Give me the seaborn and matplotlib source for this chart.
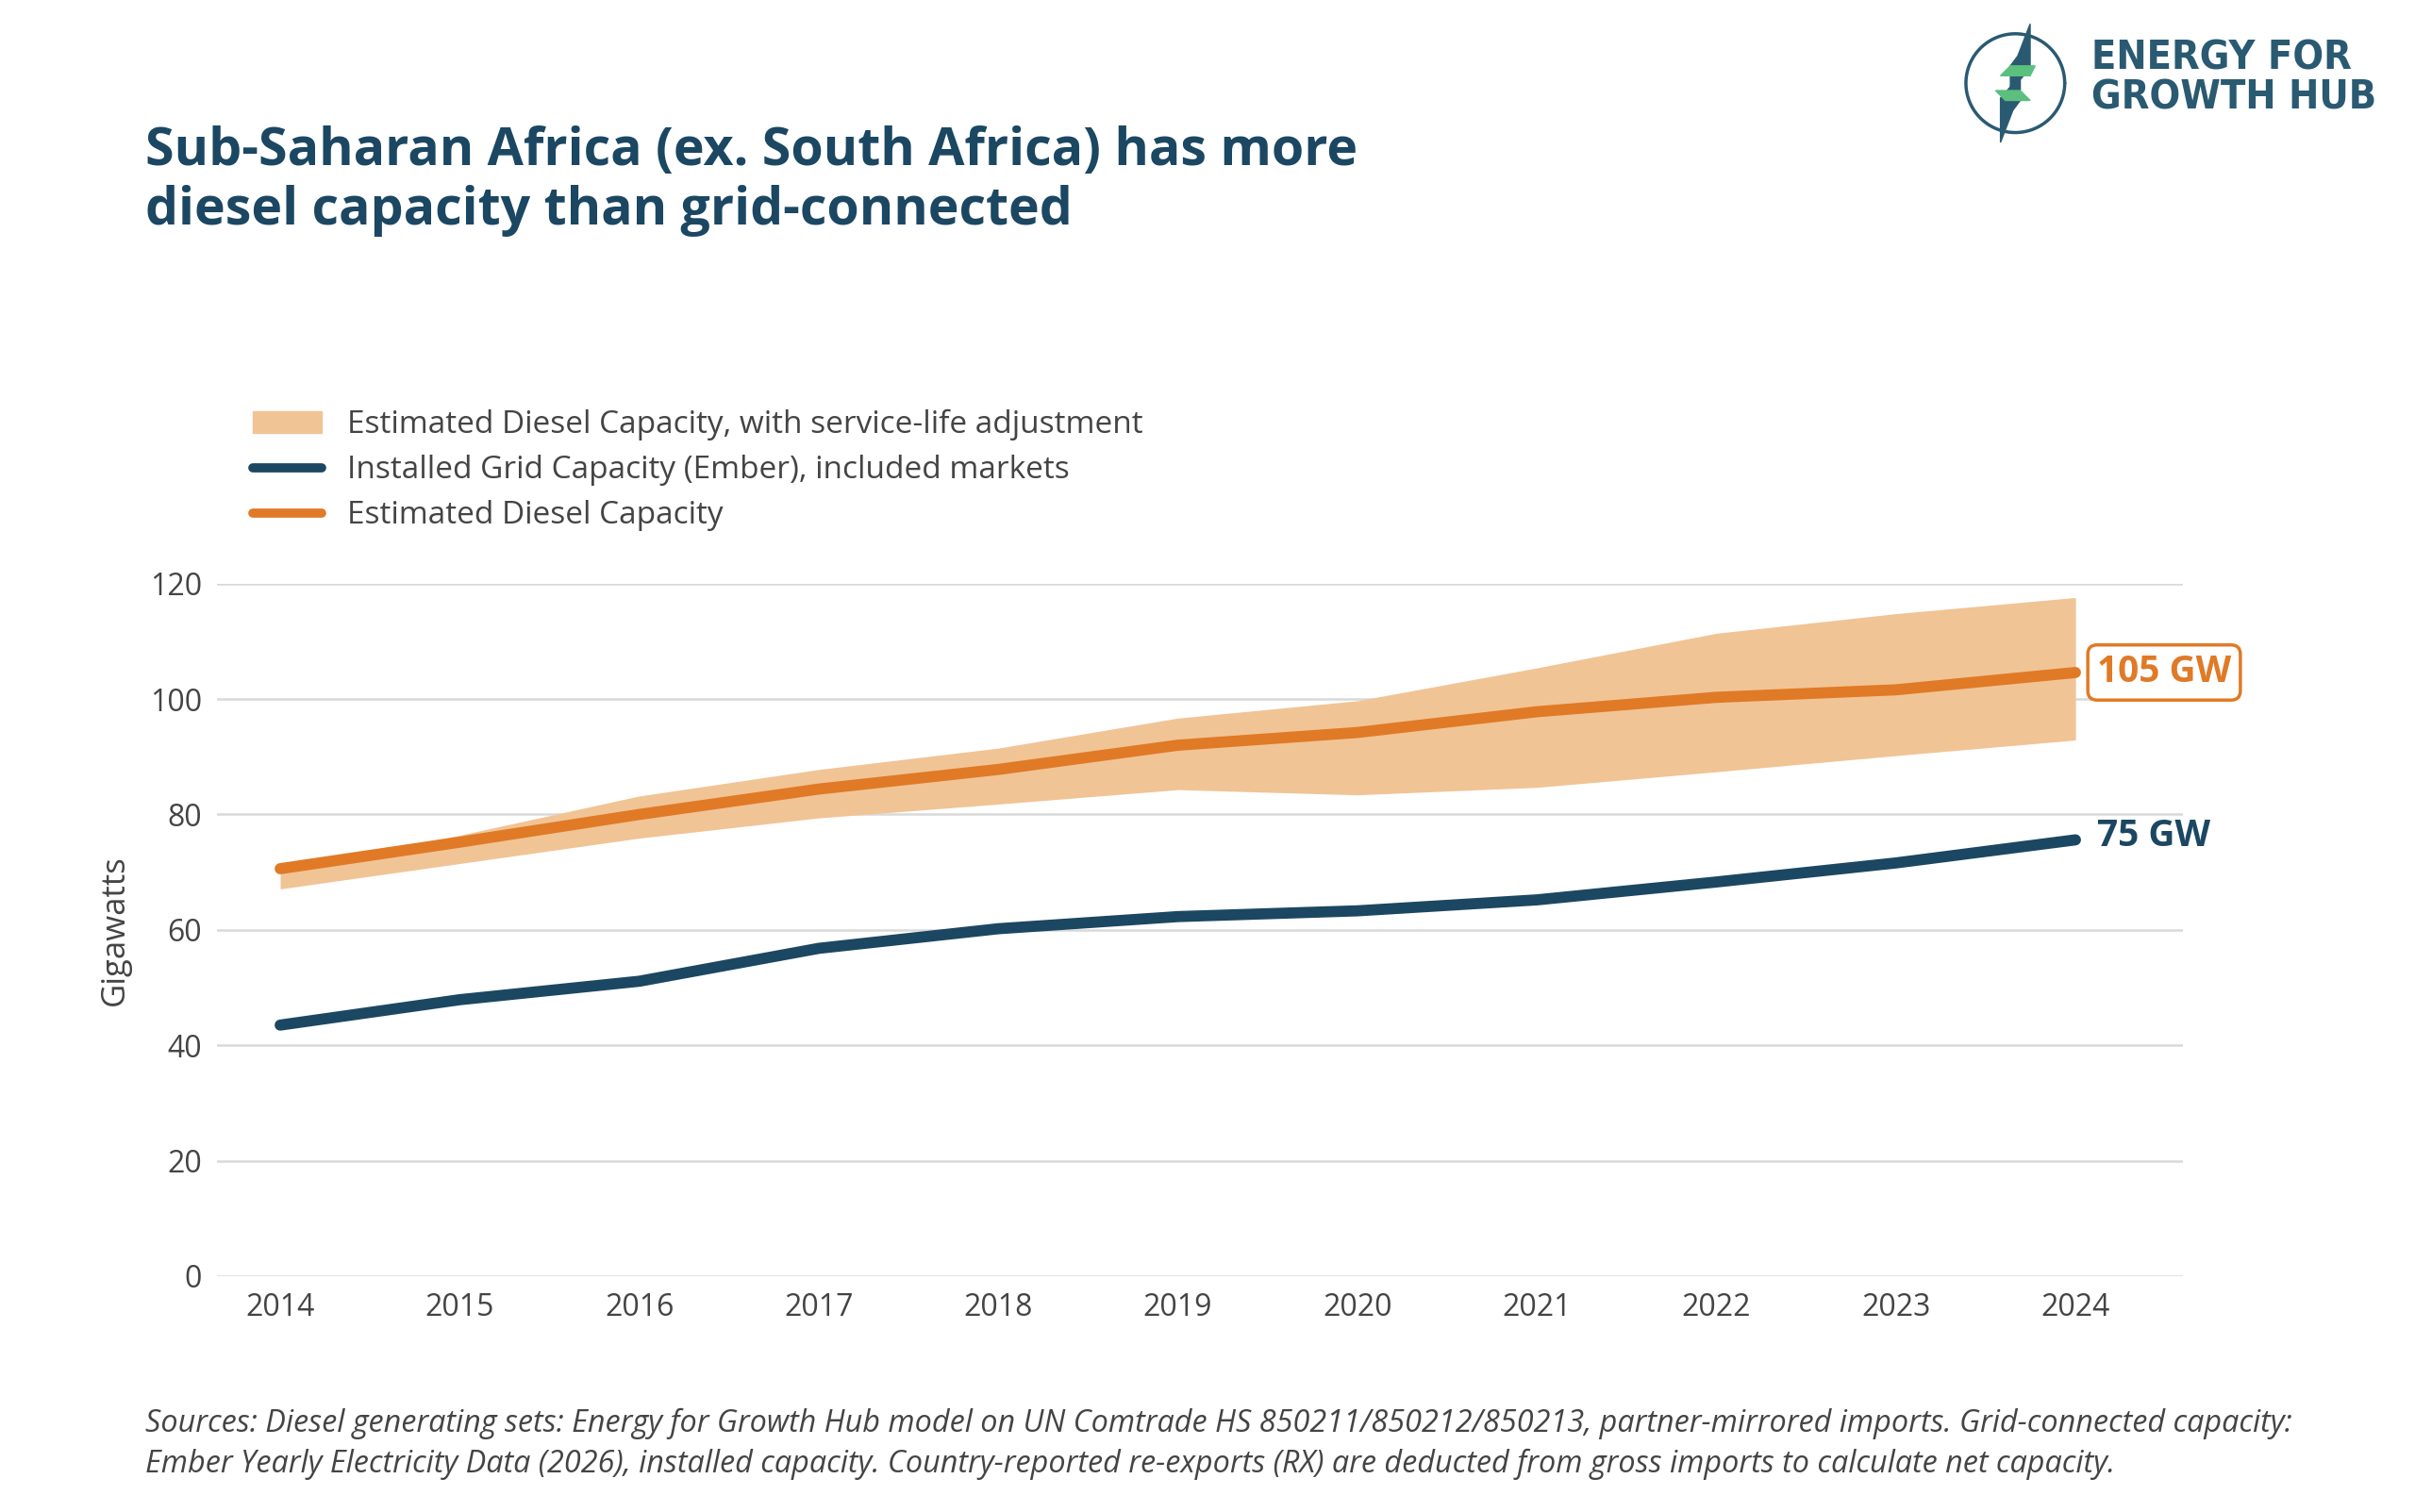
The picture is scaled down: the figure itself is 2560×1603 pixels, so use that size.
import numpy as np
import pandas as pd
import seaborn as sns
import matplotlib.pyplot as plt
from matplotlib.patches import Patch
from matplotlib.lines import Line2D

years = list(range(2014, 2025))
diesel = [70.6, 75.2, 80.0, 84.4, 87.8, 92.0, 94.2, 97.8, 100.3, 101.6, 104.6]
diesel_high = [70.6, 76.4, 83.2, 87.8, 91.5, 96.7, 99.7, 105.4, 111.4, 114.8, 117.6]
diesel_low = [67.1, 71.5, 75.9, 79.4, 81.8, 84.3, 83.4, 84.7, 87.4, 90.2, 92.9]
grid = [43.5, 47.9, 51.1, 56.8, 60.2, 62.3, 63.3, 65.2, 68.3, 71.6, 75.6]

df = pd.DataFrame({'Year': years, 'Diesel': diesel, 'Grid': grid})

navy = '#1b4762'
orange = '#e07a26'
band = '#f1c495'
txt = '#444444'

sns.set_style('white')
plt.rcParams['font.family'] = ['Open Sans', 'DejaVu Sans']

fig = plt.figure(figsize=(25.6, 16.03), dpi=100)
ax = fig.add_axes([0.09, 0.156, 0.814, 0.458])

ax.fill_between(years, diesel_low, diesel_high, color=band, lw=0, zorder=1)
for y in range(0, 121, 20):
    ax.axhline(y, color='#d9d9d9', lw=1.8, zorder=0)
sns.lineplot(data=df, x='Year', y='Grid', color=navy, lw=8.5, ax=ax, zorder=3)
sns.lineplot(data=df, x='Year', y='Diesel', color=orange, lw=8.5, ax=ax, zorder=3)

ax.set_xlim(2013.65, 2024.6)
ax.set_ylim(0, 120)
ax.set_xticks(years)
ax.set_yticks(range(0, 121, 20))
ax.tick_params(labelsize=23, colors=txt, length=0, pad=12)
ax.set_xlabel('')
ax.set_ylabel('Gigawatts', fontsize=25, color=txt, labelpad=14)
sns.despine(ax=ax, left=True, bottom=True)

ax.text(2024.12, diesel[-1], '105 GW', color=orange, fontsize=28, fontweight='bold',
        va='center', ha='left', zorder=5,
        bbox=dict(boxstyle='round,pad=0.25', fc='white', ec=orange, lw=2.5))
ax.text(2024.12, grid[-1] + 0.6, '75 GW', color=navy, fontsize=28, fontweight='bold',
        va='center', ha='left')

handles = [Patch(color=band, label='Estimated Diesel Capacity, with service-life adjustment'),
           Line2D([], [], color=navy, lw=7, label='Installed Grid Capacity (Ember), included markets'),
           Line2D([], [], color=orange, lw=7, label='Estimated Diesel Capacity')]
fig.legend(handles=handles, loc='upper left', bbox_to_anchor=(0.093, 0.748), frameon=False,
           fontsize=24, labelcolor=txt, handlelength=2.2, labelspacing=0.45)

fig.text(0.06, 0.917, 'Sub-Saharan Africa (ex. South Africa) has more\ndiesel capacity than grid-connected',
         fontsize=40, fontweight='bold', color=navy, va='top', linespacing=1.2)

# logo
fig.text(0.866, 0.975, 'ENERGY FOR\nGROWTH HUB', fontsize=31, color='#2a5a72', va='top',
         fontweight='bold', fontstretch='condensed', linespacing=1.0, family='DejaVu Sans')
ax_logo = fig.add_axes([0.812, 0.9, 0.045, 0.09])
ax_logo.set_aspect('equal')
ax_logo.axis('off')
t = np.linspace(0, 2 * np.pi, 200)
ax_logo.plot(np.cos(t), np.sin(t), color='#2a5a72', lw=2.5)
ax_logo.fill([0.3, 0.05, -0.1, -0.1, 0.3], [1.2, 0.55, 0.35, -0.15, 0.3], color='#2a5a72')
ax_logo.fill([-0.3, -0.05, 0.1, 0.1, -0.3], [-1.2, -0.55, -0.35, 0.15, -0.3], color='#2a5a72')
ax_logo.fill([-0.1, 0.4, 0.3, -0.3], [0.35, 0.35, 0.15, 0.15], color='#5bbf7e')
ax_logo.fill([-0.4, 0.1, 0.3, -0.2], [-0.15, -0.15, -0.35, -0.35], color='#5bbf7e')

fig.text(0.06, 0.069, 'Sources: Diesel generating sets: Energy for Growth Hub model on UN Comtrade HS 850211/850212/850213, '
         'partner-mirrored imports. Grid-connected capacity:\nEmber Yearly Electricity Data (2026), installed capacity. '
         'Country-reported re-exports (RX) are deducted from gross imports to calculate net capacity.',
         fontsize=23.3, style='italic', color=txt, va='top', linespacing=1.4)

fig.savefig('out.png', dpi=100, facecolor='white')
